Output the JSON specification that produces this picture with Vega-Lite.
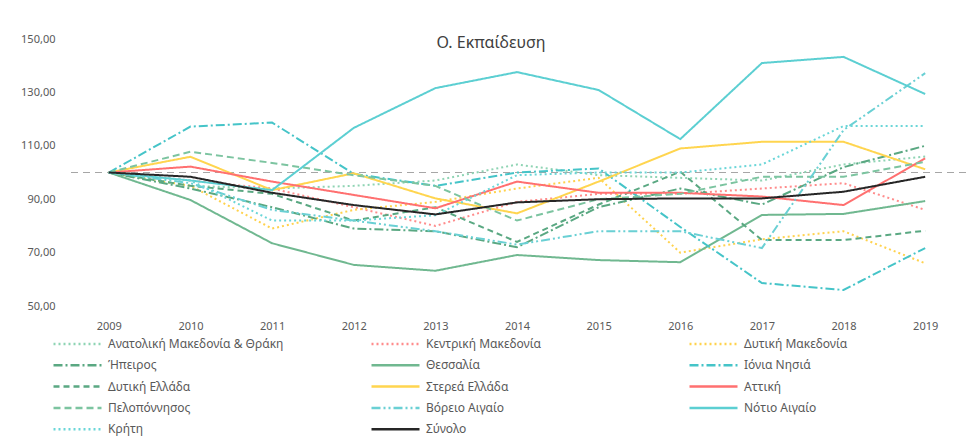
{
  "$schema": "https://vega.github.io/schema/vega-lite/v6.json",
  "width": 898,
  "height": 267,
  "autosize": {"type": "none"},
  "padding": {"left": 68, "top": 39, "right": 7, "bottom": 132},
  "background": "white",
  "title": {"text": "Ο. Εκπαίδευση", "fontSize": 16, "font": "Noto Sans", "color": "#404040", "fontWeight": "normal", "anchor": "middle", "dx": -26, "offset": -18},
  "config": {
    "view": {"stroke": null},
    "axis": {"domain": false, "ticks": false, "grid": false, "labelFont": "Noto Sans", "labelColor": "#595959", "labelFontSize": 11, "title": null}
  },
  "layer": [
    {
      "data": {"values": [{"ref": 100}]},
      "mark": {"type": "rule", "stroke": "#a6a6a6", "strokeWidth": 1.2, "strokeDash": [7, 5]},
      "encoding": {"y": {"field": "ref", "type": "quantitative", "scale": {"domain": [50, 150]}}}
    },
    {
      "data": {"values": [
        {"region": "Ανατολική Μακεδονία & Θράκη", "year": "2009", "value": 100},
        {"region": "Ανατολική Μακεδονία & Θράκη", "year": "2010", "value": 95},
        {"region": "Ανατολική Μακεδονία & Θράκη", "year": "2011", "value": 94},
        {"region": "Ανατολική Μακεδονία & Θράκη", "year": "2012", "value": 95},
        {"region": "Ανατολική Μακεδονία & Θράκη", "year": "2013", "value": 97},
        {"region": "Ανατολική Μακεδονία & Θράκη", "year": "2014", "value": 103},
        {"region": "Ανατολική Μακεδονία & Θράκη", "year": "2015", "value": 99},
        {"region": "Ανατολική Μακεδονία & Θράκη", "year": "2016", "value": 98},
        {"region": "Ανατολική Μακεδονία & Θράκη", "year": "2017", "value": 97},
        {"region": "Ανατολική Μακεδονία & Θράκη", "year": "2018", "value": 103},
        {"region": "Ανατολική Μακεδονία & Θράκη", "year": "2019", "value": 106},
        {"region": "Κεντρική Μακεδονία", "year": "2009", "value": 100},
        {"region": "Κεντρική Μακεδονία", "year": "2010", "value": 97},
        {"region": "Κεντρική Μακεδονία", "year": "2011", "value": 94},
        {"region": "Κεντρική Μακεδονία", "year": "2012", "value": 87},
        {"region": "Κεντρική Μακεδονία", "year": "2013", "value": 80},
        {"region": "Κεντρική Μακεδονία", "year": "2014", "value": 89},
        {"region": "Κεντρική Μακεδονία", "year": "2015", "value": 92},
        {"region": "Κεντρική Μακεδονία", "year": "2016", "value": 92},
        {"region": "Κεντρική Μακεδονία", "year": "2017", "value": 94},
        {"region": "Κεντρική Μακεδονία", "year": "2018", "value": 96},
        {"region": "Κεντρική Μακεδονία", "year": "2019", "value": 86},
        {"region": "Δυτική Μακεδονία", "year": "2009", "value": 100},
        {"region": "Δυτική Μακεδονία", "year": "2010", "value": 95},
        {"region": "Δυτική Μακεδονία", "year": "2011", "value": 79},
        {"region": "Δυτική Μακεδονία", "year": "2012", "value": 86},
        {"region": "Δυτική Μακεδονία", "year": "2013", "value": 89},
        {"region": "Δυτική Μακεδονία", "year": "2014", "value": 94},
        {"region": "Δυτική Μακεδονία", "year": "2015", "value": 98},
        {"region": "Δυτική Μακεδονία", "year": "2016", "value": 70},
        {"region": "Δυτική Μακεδονία", "year": "2017", "value": 75},
        {"region": "Δυτική Μακεδονία", "year": "2018", "value": 78},
        {"region": "Δυτική Μακεδονία", "year": "2019", "value": 66},
        {"region": "Ήπειρος", "year": "2009", "value": 100},
        {"region": "Ήπειρος", "year": "2010", "value": 94},
        {"region": "Ήπειρος", "year": "2011", "value": 87},
        {"region": "Ήπειρος", "year": "2012", "value": 79},
        {"region": "Ήπειρος", "year": "2013", "value": 78},
        {"region": "Ήπειρος", "year": "2014", "value": 72},
        {"region": "Ήπειρος", "year": "2015", "value": 87},
        {"region": "Ήπειρος", "year": "2016", "value": 94},
        {"region": "Ήπειρος", "year": "2017", "value": 88},
        {"region": "Ήπειρος", "year": "2018", "value": 102},
        {"region": "Ήπειρος", "year": "2019", "value": 110},
        {"region": "Θεσσαλία", "year": "2009", "value": 100},
        {"region": "Θεσσαλία", "year": "2010", "value": 89.7},
        {"region": "Θεσσαλία", "year": "2011", "value": 73.5},
        {"region": "Θεσσαλία", "year": "2012", "value": 65.4},
        {"region": "Θεσσαλία", "year": "2013", "value": 63.2},
        {"region": "Θεσσαλία", "year": "2014", "value": 69.1},
        {"region": "Θεσσαλία", "year": "2015", "value": 67.2},
        {"region": "Θεσσαλία", "year": "2016", "value": 66.4},
        {"region": "Θεσσαλία", "year": "2017", "value": 84.1},
        {"region": "Θεσσαλία", "year": "2018", "value": 84.5},
        {"region": "Θεσσαλία", "year": "2019", "value": 89.3},
        {"region": "Ιόνια Νησιά", "year": "2009", "value": 100},
        {"region": "Ιόνια Νησιά", "year": "2010", "value": 117.2},
        {"region": "Ιόνια Νησιά", "year": "2011", "value": 118.7},
        {"region": "Ιόνια Νησιά", "year": "2012", "value": 99.5},
        {"region": "Ιόνια Νησιά", "year": "2013", "value": 95},
        {"region": "Ιόνια Νησιά", "year": "2014", "value": 100},
        {"region": "Ιόνια Νησιά", "year": "2015", "value": 101.5},
        {"region": "Ιόνια Νησιά", "year": "2016", "value": 79.6},
        {"region": "Ιόνια Νησιά", "year": "2017", "value": 58.6},
        {"region": "Ιόνια Νησιά", "year": "2018", "value": 56},
        {"region": "Ιόνια Νησιά", "year": "2019", "value": 71.7},
        {"region": "Δυτική Ελλάδα", "year": "2009", "value": 100},
        {"region": "Δυτική Ελλάδα", "year": "2010", "value": 95},
        {"region": "Δυτική Ελλάδα", "year": "2011", "value": 92},
        {"region": "Δυτική Ελλάδα", "year": "2012", "value": 82},
        {"region": "Δυτική Ελλάδα", "year": "2013", "value": 87},
        {"region": "Δυτική Ελλάδα", "year": "2014", "value": 74},
        {"region": "Δυτική Ελλάδα", "year": "2015", "value": 88},
        {"region": "Δυτική Ελλάδα", "year": "2016", "value": 100.3},
        {"region": "Δυτική Ελλάδα", "year": "2017", "value": 74.7},
        {"region": "Δυτική Ελλάδα", "year": "2018", "value": 74.7},
        {"region": "Δυτική Ελλάδα", "year": "2019", "value": 78.2},
        {"region": "Στερεά Ελλάδα", "year": "2009", "value": 100},
        {"region": "Στερεά Ελλάδα", "year": "2010", "value": 105.9},
        {"region": "Στερεά Ελλάδα", "year": "2011", "value": 93.4},
        {"region": "Στερεά Ελλάδα", "year": "2012", "value": 99.7},
        {"region": "Στερεά Ελλάδα", "year": "2013", "value": 90.3},
        {"region": "Στερεά Ελλάδα", "year": "2014", "value": 84.7},
        {"region": "Στερεά Ελλάδα", "year": "2015", "value": 96.6},
        {"region": "Στερεά Ελλάδα", "year": "2016", "value": 109},
        {"region": "Στερεά Ελλάδα", "year": "2017", "value": 111.5},
        {"region": "Στερεά Ελλάδα", "year": "2018", "value": 111.5},
        {"region": "Στερεά Ελλάδα", "year": "2019", "value": 101.2},
        {"region": "Αττική", "year": "2009", "value": 100},
        {"region": "Αττική", "year": "2010", "value": 102.2},
        {"region": "Αττική", "year": "2011", "value": 96.6},
        {"region": "Αττική", "year": "2012", "value": 91.6},
        {"region": "Αττική", "year": "2013", "value": 86.6},
        {"region": "Αττική", "year": "2014", "value": 96.6},
        {"region": "Αττική", "year": "2015", "value": 92.4},
        {"region": "Αττική", "year": "2016", "value": 92.4},
        {"region": "Αττική", "year": "2017", "value": 91},
        {"region": "Αττική", "year": "2018", "value": 87.8},
        {"region": "Αττική", "year": "2019", "value": 105.3},
        {"region": "Πελοπόννησος", "year": "2009", "value": 100},
        {"region": "Πελοπόννησος", "year": "2010", "value": 107.8},
        {"region": "Πελοπόννησος", "year": "2011", "value": 103.6},
        {"region": "Πελοπόννησος", "year": "2012", "value": 99},
        {"region": "Πελοπόννησος", "year": "2013", "value": 95},
        {"region": "Πελοπόννησος", "year": "2014", "value": 82},
        {"region": "Πελοπόννησος", "year": "2015", "value": 90},
        {"region": "Πελοπόννησος", "year": "2016", "value": 92},
        {"region": "Πελοπόννησος", "year": "2017", "value": 98.4},
        {"region": "Πελοπόννησος", "year": "2018", "value": 98.4},
        {"region": "Πελοπόννησος", "year": "2019", "value": 104},
        {"region": "Βόρειο Αιγαίο", "year": "2009", "value": 100},
        {"region": "Βόρειο Αιγαίο", "year": "2010", "value": 96},
        {"region": "Βόρειο Αιγαίο", "year": "2011", "value": 86},
        {"region": "Βόρειο Αιγαίο", "year": "2012", "value": 82},
        {"region": "Βόρειο Αιγαίο", "year": "2013", "value": 78},
        {"region": "Βόρειο Αιγαίο", "year": "2014", "value": 73},
        {"region": "Βόρειο Αιγαίο", "year": "2015", "value": 78},
        {"region": "Βόρειο Αιγαίο", "year": "2016", "value": 78},
        {"region": "Βόρειο Αιγαίο", "year": "2017", "value": 71.7},
        {"region": "Βόρειο Αιγαίο", "year": "2018", "value": 115.9},
        {"region": "Βόρειο Αιγαίο", "year": "2019", "value": 137.2},
        {"region": "Νότιο Αιγαίο", "year": "2009", "value": 100},
        {"region": "Νότιο Αιγαίο", "year": "2010", "value": 97},
        {"region": "Νότιο Αιγαίο", "year": "2011", "value": 93.4},
        {"region": "Νότιο Αιγαίο", "year": "2012", "value": 116.7},
        {"region": "Νότιο Αιγαίο", "year": "2013", "value": 131.6},
        {"region": "Νότιο Αιγαίο", "year": "2014", "value": 137.6},
        {"region": "Νότιο Αιγαίο", "year": "2015", "value": 130.9},
        {"region": "Νότιο Αιγαίο", "year": "2016", "value": 112.5},
        {"region": "Νότιο Αιγαίο", "year": "2017", "value": 141},
        {"region": "Νότιο Αιγαίο", "year": "2018", "value": 143.3},
        {"region": "Νότιο Αιγαίο", "year": "2019", "value": 129.4},
        {"region": "Κρήτη", "year": "2009", "value": 100},
        {"region": "Κρήτη", "year": "2010", "value": 97},
        {"region": "Κρήτη", "year": "2011", "value": 82},
        {"region": "Κρήτη", "year": "2012", "value": 82},
        {"region": "Κρήτη", "year": "2013", "value": 84},
        {"region": "Κρήτη", "year": "2014", "value": 99},
        {"region": "Κρήτη", "year": "2015", "value": 100},
        {"region": "Κρήτη", "year": "2016", "value": 100},
        {"region": "Κρήτη", "year": "2017", "value": 103},
        {"region": "Κρήτη", "year": "2018", "value": 117.4},
        {"region": "Κρήτη", "year": "2019", "value": 117.4},
        {"region": "Σύνολο", "year": "2009", "value": 100},
        {"region": "Σύνολο", "year": "2010", "value": 98.4},
        {"region": "Σύνολο", "year": "2011", "value": 92.4},
        {"region": "Σύνολο", "year": "2012", "value": 87.8},
        {"region": "Σύνολο", "year": "2013", "value": 84.3},
        {"region": "Σύνολο", "year": "2014", "value": 88.8},
        {"region": "Σύνολο", "year": "2015", "value": 90},
        {"region": "Σύνολο", "year": "2016", "value": 90.3},
        {"region": "Σύνολο", "year": "2017", "value": 90.3},
        {"region": "Σύνολο", "year": "2018", "value": 92.8},
        {"region": "Σύνολο", "year": "2019", "value": 98.4}
      ]},
      "mark": {"type": "line", "strokeWidth": 2},
      "encoding": {
        "x": {"field": "year", "type": "ordinal", "scale": {"type": "point", "padding": 0.5}, "axis": {"labelAngle": 0, "labelPadding": 14}},
        "y": {"field": "value", "type": "quantitative", "scale": {"domain": [50, 150]}, "axis": {"values": [50, 70, 90, 110, 130, 150], "labelPadding": 13, "labelExpr": "replace(format(datum.value, '.2f'), '.', ',')"}},
        "color": {
          "field": "region", "type": "nominal",
          "scale": {
            "domain": ["Ανατολική Μακεδονία & Θράκη", "Κεντρική Μακεδονία", "Δυτική Μακεδονία", "Ήπειρος", "Θεσσαλία", "Ιόνια Νησιά", "Δυτική Ελλάδα", "Στερεά Ελλάδα", "Αττική", "Πελοπόννησος", "Βόρειο Αιγαίο", "Νότιο Αιγαίο", "Κρήτη", "Σύνολο"],
            "range": ["#8fd4b4", "#ff8c8c", "#ffd24d", "#5aa882", "#70b890", "#45c4c8", "#5aa882", "#ffd54f", "#ff7070", "#7cc4a0", "#6ad0d4", "#5ccfd2", "#6ad6d8", "#262626"]
          },
          "legend": {"orient": "none", "direction": "horizontal", "legendX": -16, "legendY": 297, "columns": 3, "title": null, "symbolType": "stroke", "symbolSize": 2304, "symbolStrokeWidth": 2.5, "clipHeight": 16, "labelFont": "Noto Sans", "labelFontSize": 12, "labelColor": "#595959", "rowPadding": 5.3, "columnPadding": 86, "gridAlign": "all", "labelOffset": 5, "labelLimit": 400}
        },
        "strokeDash": {
          "field": "region", "type": "nominal",
          "scale": {
            "domain": ["Ανατολική Μακεδονία & Θράκη", "Κεντρική Μακεδονία", "Δυτική Μακεδονία", "Ήπειρος", "Θεσσαλία", "Ιόνια Νησιά", "Δυτική Ελλάδα", "Στερεά Ελλάδα", "Αττική", "Πελοπόννησος", "Βόρειο Αιγαίο", "Νότιο Αιγαίο", "Κρήτη", "Σύνολο"],
            "range": [[2, 3], [2, 3], [2, 3], [9, 3, 2, 3], [1, 0], [9, 3, 2, 3], [6, 4], [1, 0], [1, 0], [7, 4], [9, 3, 2, 3, 2, 3], [1, 0], [2, 3], [1, 0]]
          },
          "legend": {"orient": "none", "direction": "horizontal", "legendX": -16, "legendY": 297, "columns": 3, "title": null, "symbolType": "stroke", "symbolSize": 2304, "symbolStrokeWidth": 2.5, "clipHeight": 16, "labelFont": "Noto Sans", "labelFontSize": 12, "labelColor": "#595959", "rowPadding": 5.3, "columnPadding": 86, "gridAlign": "all", "labelOffset": 5, "labelLimit": 400}
        },
        "strokeWidth": {"condition": {"test": "datum.region === 'Σύνολο'", "value": 3}, "value": 2}
      }
    }
  ]
}
